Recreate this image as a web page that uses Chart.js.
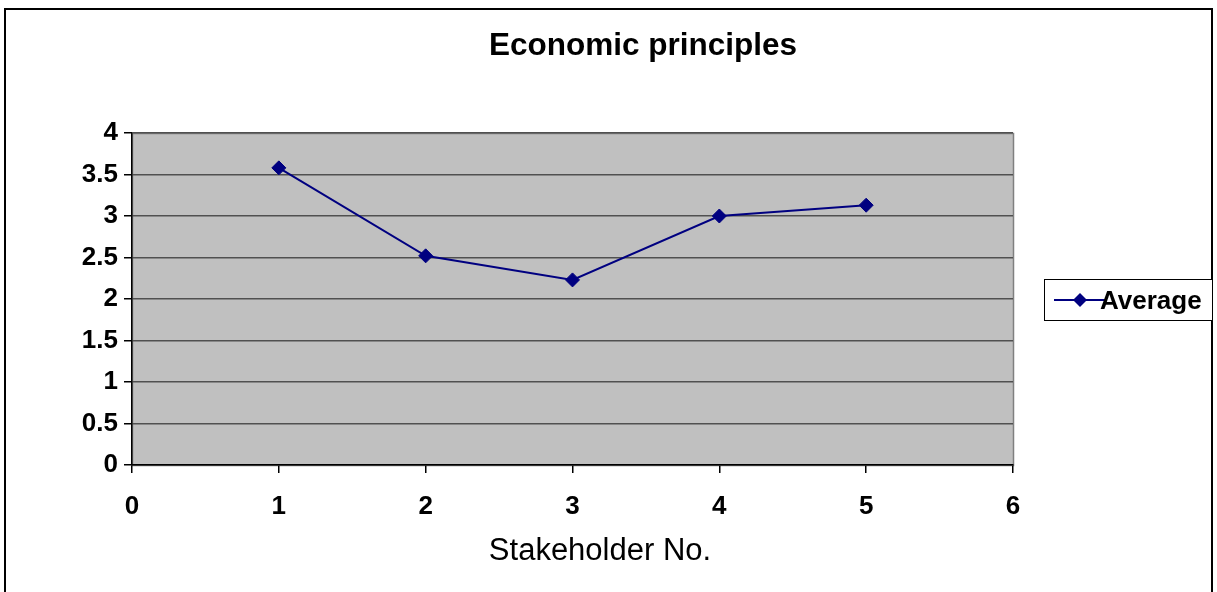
<!DOCTYPE html>
<html>
<head>
<meta charset="utf-8">
<script src="https://cdn.jsdelivr.net/npm/chart.js@4/dist/chart.umd.min.js"></script>
<style>
  html, body { margin: 0; padding: 0; background: #fff; }
  #wrap { width: 1217px; height: 592px; position: relative; }
</style>
</head>
<body>
<div id="wrap"><canvas id="c" width="1217" height="592"></canvas></div>
<script>
// Average score given by each stakeholder
const stakeholders = [1, 2, 3, 4, 5];
const averages = [3.58, 2.52, 2.23, 3.0, 3.13];
const xTicks = [0, 1, 2, 3, 4, 5, 6];
const yTicks = [0, 0.5, 1, 1.5, 2, 2.5, 3, 3.5, 4];
const chartTitle = 'Economic principles';
const xAxisTitle = 'Stakeholder No.';
const seriesName = 'Average';

const FONT = '"Liberation Sans", Arial, Helvetica, sans-serif';
const NAVY = '#000080';

const points = stakeholders.map((s, i) => ({ x: s, y: averages[i] }));

// Page frame, grey plot background, titles and the boxed legend
const decor = {
  id: 'decor',
  beforeDraw(chart) {
    const ctx = chart.ctx;
    const a = chart.chartArea;
    ctx.save();
    ctx.fillStyle = '#fff';
    ctx.fillRect(0, 0, chart.width, chart.height);
    ctx.fillStyle = '#c0c0c0';
    ctx.fillRect(a.left, a.top, a.right - a.left, a.bottom - a.top);
    ctx.strokeStyle = '#808080';
    ctx.lineWidth = 1.5;
    ctx.strokeRect(a.left + 0.5, a.top + 0.5, a.right - a.left, a.bottom - a.top);
    ctx.restore();
  },
  afterDraw(chart) {
    const ctx = chart.ctx;
    ctx.save();
    // outer frame
    ctx.strokeStyle = '#000';
    ctx.lineWidth = 2;
    ctx.strokeRect(5, 9, 1207, 620);
    // title
    ctx.fillStyle = '#000';
    ctx.font = 'bold 31.5px ' + FONT;
    ctx.textAlign = 'center';
    ctx.textBaseline = 'middle';
    ctx.fillText(chartTitle, 643, 46);
    // x axis title
    ctx.font = '31px ' + FONT;
    ctx.fillText(xAxisTitle, 600, 551);
    // legend
    const lx = 1044, ly = 279, lw = 168, lh = 41;
    ctx.fillStyle = '#fff';
    ctx.fillRect(lx, ly, lw, lh);
    ctx.strokeStyle = '#000';
    ctx.lineWidth = 1;
    ctx.strokeRect(lx + 0.5, ly + 0.5, lw, lh);
    const cy = ly + 21;
    ctx.strokeStyle = NAVY;
    ctx.lineWidth = 2;
    ctx.beginPath();
    ctx.moveTo(lx + 10, cy);
    ctx.lineTo(lx + 62, cy);
    ctx.stroke();
    ctx.fillStyle = NAVY;
    ctx.beginPath();
    const dx = lx + 36, r = 7;
    ctx.moveTo(dx, cy - r);
    ctx.lineTo(dx + r, cy);
    ctx.lineTo(dx, cy + r);
    ctx.lineTo(dx - r, cy);
    ctx.closePath();
    ctx.fill();
    ctx.fillStyle = '#000';
    ctx.font = 'bold 26px ' + FONT;
    ctx.textAlign = 'left';
    ctx.fillText(seriesName, lx + 56, cy + 2);
    ctx.restore();
  }
};

new Chart(document.getElementById('c'), {
  type: 'line',
  data: {
    datasets: [{
      label: seriesName,
      data: points,
      borderColor: NAVY,
      backgroundColor: NAVY,
      borderWidth: 2,
      pointStyle: 'rectRot',
      pointRadius: 7,
      pointBorderWidth: 1,
      pointBackgroundColor: NAVY,
      pointBorderColor: NAVY,
      tension: 0,
      fill: false
    }]
  },
  options: {
    responsive: false,
    animation: false,
    devicePixelRatio: 1,
    layout: { padding: { top: 133, right: 204, left: 0, bottom: 0 } },
    plugins: {
      legend: { display: false },
      title: { display: false },
      tooltip: { enabled: false }
    },
    scales: {
      x: {
        type: 'linear',
        min: xTicks[0],
        max: xTicks[xTicks.length - 1],
        afterBuildTicks(s) { s.ticks = xTicks.map(v => ({ value: v })); },
        afterFit(s) { s.height = 127; },
        border: { color: '#000', width: 1.5 },
        grid: { drawOnChartArea: false, tickLength: 8, tickColor: '#000', color: '#000', lineWidth: 1.5 },
        ticks: {
          color: '#000',
          padding: 18,
          callback: v => String(v),
          font: { family: FONT, size: 26, weight: 'bold' }
        }
      },
      y: {
        type: 'linear',
        min: yTicks[0],
        max: yTicks[yTicks.length - 1],
        afterBuildTicks(s) { s.ticks = yTicks.map(v => ({ value: v })); },
        afterFit(s) { s.width = 132; },
        border: { color: '#000', width: 1.5 },
        grid: {
          color: '#505050',
          lineWidth: 1.5,
          tickLength: 8,
          tickColor: '#000'
        },
        ticks: {
          color: '#000',
          padding: 6,
          callback: v => String(v),
          font: { family: FONT, size: 26, weight: 'bold' }
        }
      }
    }
  },
  plugins: [decor]
});
</script>
</body>
</html>
